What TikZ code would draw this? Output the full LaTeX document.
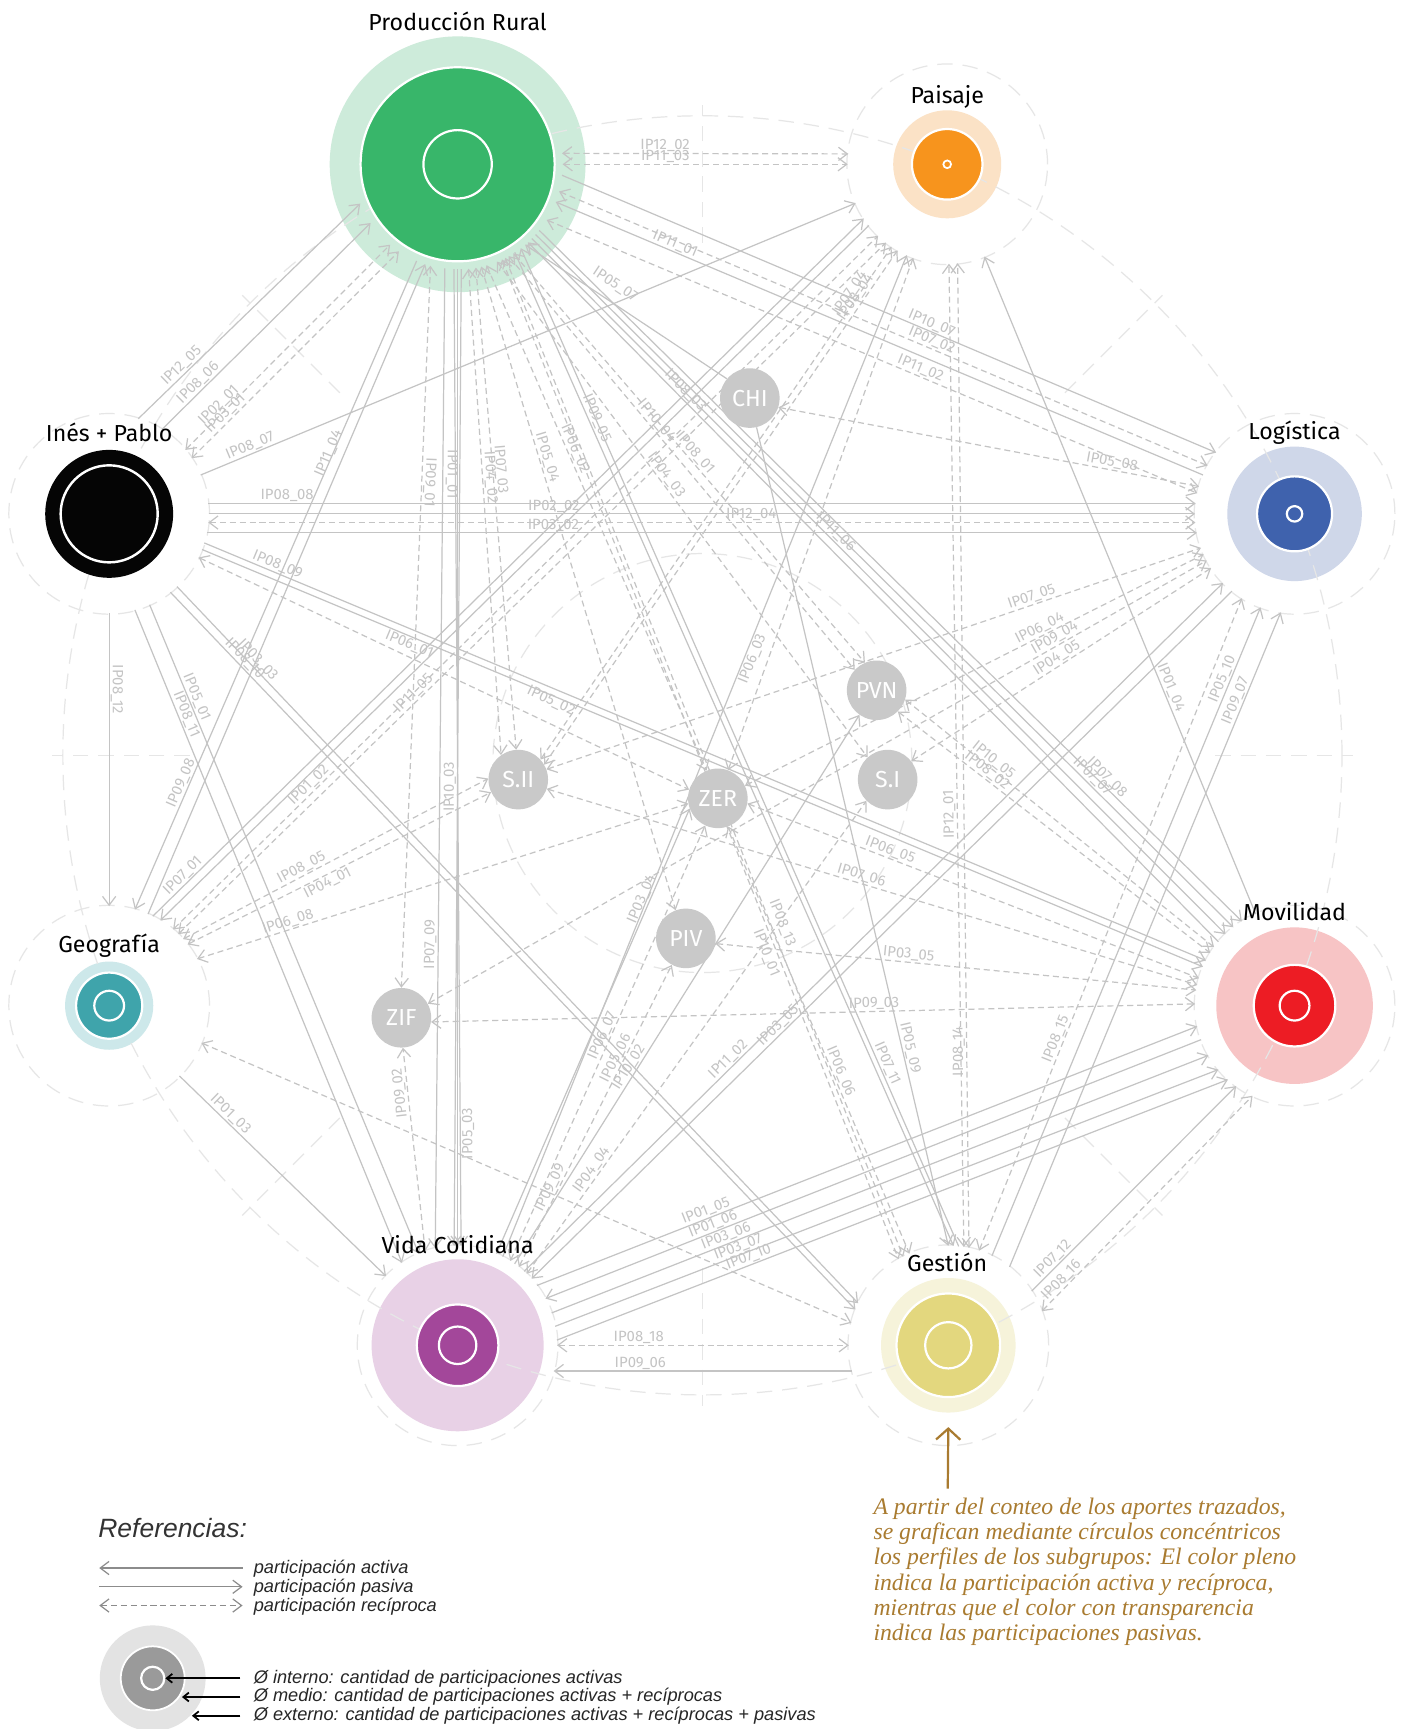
\documentclass[tikz,border=0pt]{standalone}
\usepackage{fontspec}
\setmainfont{Fira Sans}
\newfontfamily\legendfont{Liberation Sans}
\newfontfamily\notefont{Liberation Serif}
\usetikzlibrary{arrows.meta}

\definecolor{edgecol}{HTML}{C4C4C4}
\definecolor{lblcol}{HTML}{C4C4C4}
\definecolor{faintcol}{HTML}{E6E6E6}
\definecolor{nodegray}{HTML}{C9C9C9}
\definecolor{prL}{HTML}{CDEBDA}\definecolor{prD}{HTML}{38B66A}
\definecolor{paL}{HTML}{FBE2C6}\definecolor{paD}{HTML}{F7941D}
\definecolor{loL}{HTML}{CFD7E9}\definecolor{loD}{HTML}{3F62AD}
\definecolor{moL}{HTML}{F7C4C5}\definecolor{moD}{HTML}{ED1C24}
\definecolor{geL}{HTML}{CDE8EA}\definecolor{geD}{HTML}{3FA4AB}
\definecolor{vcL}{HTML}{E8D1E6}\definecolor{vcD}{HTML}{A3479A}
\definecolor{gsL}{HTML}{F6F3DA}\definecolor{gsD}{HTML}{E3D77E}
\definecolor{ipD}{HTML}{050505}
\definecolor{gold}{HTML}{A97B30}
\definecolor{legL}{HTML}{E3E3E3}\definecolor{legD}{HTML}{9A9A9A}
\definecolor{legline}{HTML}{8C8C8C}

\pgfdeclarelayer{back}\pgfdeclarelayer{mid}
\pgfsetlayers{back,mid,main}

\tikzset{
  vb/.tip={Straight Barb[length=8pt,width=12pt]},
  hub/.style={circle,inner sep=0pt,minimum size=180pt},
  smn/.style={circle,inner sep=0pt,minimum size=54pt,fill=nodegray,text=white,font=\fontsize{21}{21}\selectfont},
  ttl/.style={font=\fontsize{21}{21}\selectfont,text=black,inner sep=0pt},
  ln/.style={draw=edgecol,line width=1.1pt},
  pas/.style={ln,-vb},
  act/.style={ln,vb-},
  rec/.style={ln,dash pattern=on 5.5pt off 3.5pt,vb-vb},
  lbl/.style={font=\fontsize{13.5}{13.5}\selectfont,text=lblcol,sloped,allow upside down,inner sep=0.5pt,above=0.5pt},
  faintd/.style={draw=faintcol,line width=1.1pt,dash pattern=on 14pt off 9pt},
  legs/.style={font=\legendfont\itshape\fontsize{16.5}{16.5}\selectfont,text=black!85,inner sep=0pt},
  legln/.style={draw=legline,line width=1.1pt},
  blkarr/.style={draw=black,line width=1.6pt,-{Straight Barb[length=5pt,width=8pt]}},
  goldarr/.style={draw=gold,line width=2pt,-{Straight Barb[length=10pt,width=22pt]}},
}
\newcommand\cnx[6][]{\draw[#2] (#3) -- (#4) node[lbl,pos=#5,#1]{#6};}

\begin{document}
\begin{tikzpicture}[x=1pt,y=-1pt]
\useasboundingbox (0,0) rectangle (1271,1568);

% group hubs (invisible circles on which connectors end)
\node[hub,minimum size=190pt] (PR) at (415,149) {};
\node[hub] (PA) at (859,149) {};
\node[hub] (LO) at (1174,466) {};
\node[hub] (MO) at (1174,912) {};
\node[hub] (GS) at (860,1220) {};
\node[hub] (VC) at (415,1220) {};
\node[hub] (GE) at (99,912) {};
\node[hub] (IP) at (99,466) {};

% individual contributors
\node[smn] (CHI) at (680,361) {CHI};
\node[smn] (PVN) at (795,626) {PVN};
\node[smn] (SII) at (470,707) {S.II};
\node[smn] (ZER) at (651,724) {ZER};
\node[smn] (SI)  at (805,707) {S.I};
\node[smn] (PIV) at (622,851) {PIV};
\node[smn] (ZIF) at (364,923) {ZIF};

% white ground, transparent outer discs and faint construction lines
\begin{pgfonlayer}{back}
\fill[white] (0,0) rectangle (1271,1568);
\fill[prL] (PR) circle (116pt);
\fill[paL] (PA) circle (49pt);
\fill[loL] (LO) circle (61pt);
\fill[moL] (MO) circle (71pt);
\fill[gsL] (GS) circle (61pt);
\fill[vcL] (VC) circle (78pt);
\fill[geL] (GE) circle (40pt);
\foreach \n in {PA,LO,MO,GS,VC,GE,IP} \draw[faintd] (\n) circle (91pt);
\draw[faintd] (637,685) circle (580pt);
\draw[faintd] (637,692) circle (190pt);
\foreach \a in {0,45,...,315}
  \draw[faintd] ([shift={(\a:465pt)}]637,685) -- ([shift={(\a:590pt)}]637,685);
\end{pgfonlayer}

\begin{pgfonlayer}{mid}
% Produccion Rural
\cnx{rec}{PR.6}{PA.174}{.36}{IP12\_02}
\cnx{rec}{PR.0}{PA.180}{.36}{IP11\_03}
\cnx{pas}{PR.-6}{LO.142}{.56}{IP10\_07}
\cnx{rec}{PR.-15}{LO.151}{.57}{IP07\_02}
\cnx{act}{PR.-21}{LO.157}{.18}{IP11\_01}
\cnx{rec}{PR.-32}{LO.168}{.57}{IP11\_02}
\cnx[above=8pt]{act}{PR.-50}{CHI.140}{.4}{IP05\_07}
\cnx{pas}{PR.-39}{MO.122}{.8}{IP07\_08}
\cnx{pas}{PR.-42}{MO.128}{.79}{IP07\_07}
\cnx{pas}{PR.-45}{MO.134}{.43}{IP11\_06}
\cnx{act}{PR.-48}{MO.140}{.22}{IP08\_03}
\cnx{pas}{PR.-57}{GS.87}{.17}{IP09\_05}
\cnx{act}{PR.-53}{GS.84}{.82}{IP07\_11}
\cnx[above=3pt]{rec}{PR.-63}{GS.117}{.67}{IP08\_13}
\cnx[below=3pt]{rec}{PR.-65}{GS.120}{.69}{IP10\_01}
\cnx{rec}{PR.-105}{ZIF.90}{.3}{IP09\_01}
\cnx{act}{VC.103}{PR.-97}{.31}{IP07\_09}
\cnx[below=1pt]{pas}{PR.-88}{VC.92}{.21}{IP01\_01}
\cnx{act}{VC.90}{PR.-90}{.47}{IP10\_03}
\cnx[below=1pt]{act}{VC.88}{PR.-92}{.115}{IP05\_03}
\cnx{rec}{PR.-84}{SII.125}{.43}{IP04\_02}
\cnx{rec}{PR.-80}{SII.94}{.42}{IP07\_03}
\cnx{rec}{PR.-77}{PIV.110}{.3}{IP05\_04}
\cnx{rec}{PR.-74}{ZER.112}{.37}{IP06\_02}
\cnx{rec}{PR.-61}{PVN.137}{.41}{IP10\_04}
\cnx{rec}{PR.-58}{PVN.113}{.5}{IP08\_01}
\cnx{rec}{PR.-68}{SI.132}{.44}{IP04\_03}
% Ines + Pablo
\cnx{pas}{IP.73}{PR.202}{.22}{IP12\_05}
\cnx{pas}{IP.58}{PR.214}{.2}{IP08\_06}
\cnx{rec}{IP.40}{PR.230}{.19}{IP02\_01}
\cnx{rec}{IP.34}{PR.236}{.19}{IP03\_01}
\cnx{pas}{IP.23}{PA.203}{.08}{IP08\_07}
\cnx{pas}{IP.6}{LO.174}{.08}{IP08\_08}
\cnx{pas}{IP.0}{LO.180}{.35}{IP02\_02}
\cnx{rec}{IP.-5}{LO.185}{.55}{IP12\_04}
\cnx{pas}{IP.-11}{LO.191}{.35}{IP03\_02}
\cnx{pas}{IP.-17}{MO.153}{.07}{IP08\_09}
\cnx[below=1pt]{pas}{IP.-21}{MO.157}{.21}{IP06\_01}
\cnx[above=12pt]{rec}{IP.-26}{ZER.163}{.7}{IP05\_02}
\cnx{pas}{IP.-52}{GS.159}{.1}{IP08\_10}
\cnx{pas}{IP.-47}{GS.155}{.11}{IP03\_03}
\cnx{pas}{IP.-75}{VC.124}{.165}{IP08\_11}
\cnx{pas}{IP.-66}{VC.113}{.147}{IP05\_01}
\cnx{pas}{IP.-90}{GE.90}{.26}{IP08\_12}
% Geografia
\cnx{act}{GE.75}{PR.-113}{.19}{IP09\_08}
\cnx[above=6pt]{pas}{GE.67}{PR.-108}{.7}{IP11\_04}
\cnx{pas}{GE.64}{PA.213}{.05}{IP07\_01}
\cnx{act}{GE.59}{PA.218}{.5}{}
\cnx{rec}{GE.50}{PA.226}{.2}{IP01\_02}
\cnx{rec}{GE.46}{PA.232}{.34}{IP11\_05}
\cnx{rec}{GE.42}{SII.178}{.4}{IP08\_05}
\cnx[below=1pt]{rec}{GE.38}{SII.205}{.45}{IP04\_01}
\cnx{rec}{GE.28}{ZER.190}{.19}{IP06\_08}
\cnx{rec}{GE.-22}{GS.167}{.5}{}
\cnx{pas}{GE.-45}{VC.136}{.22}{IP01\_03}
% Paisaje
\cnx{rec}{SII.42}{PA.236}{.9}{IP07\_04}
\cnx{rec}{SII.30}{PA.240}{.9}{IP08\_04}
\cnx{rec}{PA.250}{ZER.70}{.5}{}
\cnx{act}{PA.-68}{MO.113}{.66}{IP01\_04}
% Logistica
\cnx{rec}{CHI.-18}{LO.164}{.79}{IP05\_08}
\cnx{rec}{SII.20}{LO.200}{.745}{IP07\_05}
\cnx{rec}{ZER.25}{LO.204}{.65}{IP06\_04}
\cnx{rec}{ZIF.28}{LO.208}{.81}{IP09\_04}
\cnx{rec}{SI.38}{LO.213}{.5}{IP04\_05}
% Movilidad
\cnx{rec}{PVN.-18}{MO.144}{.27}{IP10\_05}
\cnx{rec}{PVN.-45}{MO.148}{.27}{IP08\_02}
\cnx{rec}{ZER.-10}{MO.164}{.31}{IP06\_05}
\cnx{rec}{SII.-18}{MO.168}{.48}{IP07\_06}
\cnx{rec}{PIV.-10}{MO.171}{.4}{IP03\_05}
\cnx{rec}{ZIF.-8}{MO.179}{.58}{IP09\_03}
% Vida Cotidiana
\cnx{pas}{VC.37}{MO.192}{.26}{IP01\_05}
\cnx{act}{VC.28}{MO.200}{.26}{IP01\_06}
\cnx{pas}{VC.19}{MO.210}{.27}{IP03\_06}
\cnx{pas}{VC.11}{MO.220}{.28}{IP03\_07}
\cnx{pas}{VC.3}{MO.228}{.29}{IP07\_10}
\cnx{pas}{VC.48}{LO.224}{.3}{IP11\_02}
\cnx{act}{VC.42}{LO.231}{.36}{IP03\_05}
\cnx[below=1pt]{pas}{VC.63}{PA.246}{.6}{IP06\_03}
\cnx{pas}{VC.67}{ZER.200}{.79}{IP03\_04}
\draw[rec] (VC.52) -- (PIV.242) node[lbl,pos=.68]{IP05\_06} node[lbl,pos=.25]{IP09\_09};
\cnx{rec}{VC.58}{ZER.245}{.51}{IP06\_07}
\cnx{pas}{VC.55}{PVN.235}{.35}{IP10\_02}
\cnx{rec}{VC.46}{SI.225}{.21}{IP04\_04}
\cnx{rec}{VC.109}{ZIF.-87}{.78}{IP09\_02}
\cnx{rec}{VC.0}{GS.180}{.28}{IP08\_18}
\cnx{act}{VC.-15}{GS.195}{.29}{IP09\_06}
% Gestion
\cnx{pas}{CHI.-77}{GS.90}{.76}{IP05\_09}
\cnx{rec}{ZER.-70}{GS.113}{.58}{IP06\_06}
\cnx{rec}{GS.81}{PA.-89}{.44}{IP12\_01}
\cnx{rec}{GS.78}{PA.-84}{.2}{IP08\_14}
\cnx{rec}{GS.72}{LO.238}{.32}{IP08\_15}
\cnx{pas}{GS.64}{LO.250}{.885}{IP05\_10}
\cnx{pas}{GS.52}{LO.262}{.86}{IP09\_07}
\cnx{pas}{GS.33}{MO.234}{.13}{IP07\_12}
\cnx{rec}{GS.20}{MO.245}{.12}{IP08\_16}
\end{pgfonlayer}

% solid discs with white rings
\fill[prD] (PR) circle (88pt); \draw[white,line width=2pt] (PR) circle (88pt);
\draw[white,line width=2pt] (PR) circle (31pt);
\fill[paD] (PA) circle (32pt); \draw[white,line width=2pt] (PA) circle (32pt);
\draw[white,line width=1.6pt] (PA) circle (3.5pt);
\fill[loD] (LO) circle (34pt); \draw[white,line width=2pt] (LO) circle (34pt);
\draw[white,line width=2pt] (LO) circle (7pt);
\fill[moD] (MO) circle (37pt); \draw[white,line width=2pt] (MO) circle (37pt);
\draw[white,line width=2pt] (MO) circle (13.5pt);
\fill[gsD] (GS) circle (47pt); \draw[white,line width=2pt] (GS) circle (47pt);
\draw[white,line width=2pt] (GS) circle (21pt);
\fill[vcD] (VC) circle (37pt); \draw[white,line width=2pt] (VC) circle (37pt);
\draw[white,line width=2pt] (VC) circle (17pt);
\fill[geD] (GE) circle (30pt); \draw[white,line width=2pt] (GE) circle (30pt);
\draw[white,line width=2pt] (GE) circle (13.5pt);
\fill[ipD] (IP) circle (58pt); \draw[white,line width=2.2pt] (IP) circle (44pt);

% group names
\node[ttl] (tPR) at (415,19) {Producción Rural};
\node[ttl] (tPA) at (859,88) {Paisaje};
\node[ttl] (tLO) at (1174,392) {Logística};
\node[ttl] (tIP) at (99,392) {Inés + Pablo};
\node[ttl] (tMO) at (1174,827) {Movilidad};
\node[ttl] (tGE) at (99,858) {Geografía};
\node[ttl] (tVC) at (415,1129) {Vida Cotidiana};
\node[ttl] (tGS) at (859,1145) {Gestión};

% legend
\node[font=\legendfont\itshape\fontsize{24}{24}\selectfont,text=black!80,anchor=west,inner sep=0pt] (ref) at (89,1386) {Referencias:};
\draw[legln,vb-] (90,1422) -- (220,1422);
\draw[legln,-vb] (90,1439) -- (220,1439);
\draw[legln,dash pattern=on 5.5pt off 3.5pt,vb-vb] (90,1456) -- (220,1456);
\node[legs,anchor=west] (l1) at (230,1423) {participación activa};
\node[legs,anchor=west] (l2) at (230,1440) {participación pasiva};
\node[legs,anchor=west] (l3) at (230,1457) {participación recíproca};
\coordinate (lc) at (138.5,1522);
\fill[legL] (lc) circle (48pt);
\fill[legD] (lc) circle (29pt); \draw[white,line width=1.6pt] (lc) circle (29pt);
\draw[white,line width=2pt] (lc) circle (10.5pt);
\node[legs,anchor=west] (o1) at (230,1522) {Ø interno: cantidad de participaciones activas};
\node[legs,anchor=west] (o2) at (230,1539) {Ø medio: cantidad de participaciones activas + recíprocas};
\node[legs,anchor=west] (o3) at (230,1556) {Ø externo: cantidad de participaciones activas + recíprocas + pasivas};
\draw[blkarr] ([xshift=-12pt]o1.west) -- ++(-68,0);
\draw[blkarr] ([xshift=-12pt]o2.west) -- ++(-53,0);
\draw[blkarr] ([xshift=-12pt]o3.west) -- ++(-44,0);

% note on the concentric circles
\node[anchor=north west,align=left,inner sep=0pt,text=gold,
      font=\notefont\itshape\fontsize{21.5}{23}\selectfont] (nt) at (792,1358)
 {A partir del conteo de los aportes trazados,\\
  se grafican mediante círculos concéntricos\\
  los perfiles de los subgrupos: El color pleno\\
  indica la participación activa y recíproca,\\
  mientras que el color con transparencia\\
  indica las participaciones pasivas.};
\coordinate (noteTip) at (859.5,1350);
\draw[goldarr] (noteTip) -- ([yshift=16pt]GS.south);
\end{tikzpicture}
\end{document}
